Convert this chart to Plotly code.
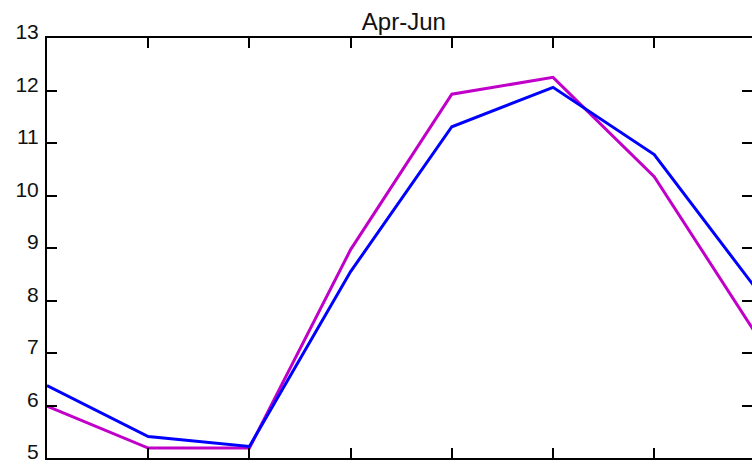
import plotly.graph_objects as go

x_pos = [0, 1, 2, 3, 4, 5, 6, 7]
blue_vals = [6.38, 5.41, 5.22, 8.55, 11.31, 12.06, 10.78, 8.24]
magenta_vals = [5.99, 5.19, 5.19, 8.97, 11.93, 12.25, 10.36, 7.38]
y_ticks = [5, 6, 7, 8, 9, 10, 11, 12, 13]
title_text = "Apr-Jun"

FONT = "Liberation Sans, Arial, sans-serif"

fig = go.Figure()
fig.add_trace(go.Scatter(x=x_pos, y=magenta_vals, mode="lines",
                         line=dict(color="#C000C8", width=3), showlegend=False))
fig.add_trace(go.Scatter(x=x_pos, y=blue_vals, mode="lines",
                         line=dict(color="#0000FF", width=3), showlegend=False))
# invisible trace to keep the right-side tick axis
fig.add_trace(go.Scatter(x=[0], y=[5], yaxis="y2", mode="none",
                         showlegend=False, hoverinfo="skip"))

fig.update_layout(
    width=752, height=464,
    margin=dict(l=47, r=0, t=38, b=6, autoexpand=False),
    paper_bgcolor="white", plot_bgcolor="white",
    font=dict(family=FONT, size=22, color="#111111"),
    title=dict(text=title_text, x=0.537, xanchor="center", y=0.953, yanchor="middle",
               font=dict(family=FONT, size=24, color="#111111")),
    xaxis=dict(range=[0, 6.966], tickvals=x_pos, showticklabels=False,
               ticks="inside", ticklen=10, tickwidth=2, tickcolor="black",
               showline=True, linecolor="black", linewidth=2, mirror="ticks",
               showgrid=False, zeroline=False, automargin=False),
    yaxis=dict(range=[5, 13], tickvals=y_ticks, ticktext=[str(v) for v in y_ticks],
               ticks="inside", ticklen=10, tickwidth=2, tickcolor="black",
               showline=True, linecolor="black", linewidth=2,
               showgrid=False, zeroline=False, ticklabelstandoff=2,
               ticklabelshift=-6,
               ticklabeloverflow="allow", automargin=False,
               tickfont=dict(family=FONT, size=21, color="#111111")),
    yaxis2=dict(range=[5, 13], tickvals=y_ticks, overlaying="y", side="right",
                anchor="x", ticks="inside", ticklen=10, tickwidth=2, tickcolor="black",
                showline=False, showticklabels=False, showgrid=False, zeroline=False,
                automargin=False),
)

fig.write_html("out.html")
